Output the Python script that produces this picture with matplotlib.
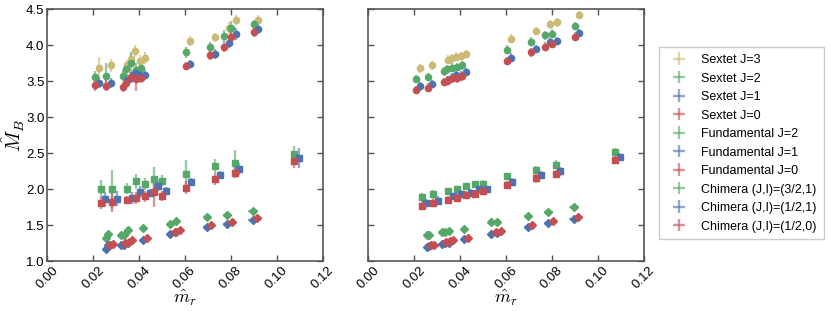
import numpy as np
import matplotlib
matplotlib.use("Agg")
import matplotlib.pyplot as plt

plt.rcParams['font.family'] = ['Liberation Sans', 'DejaVu Sans']
plt.rcParams['mathtext.fontset'] = 'cm'

red, blue, green, gold = "#C44E52", "#4C72B0", "#55A868", "#CCB974"

# m_r for each ensemble (J=1 / J=3 and red chimera are shifted by 0.002 for readability)
x_sex = np.array([0.0207, 0.0258, 0.0328, 0.0345, 0.0364, 0.0386, 0.0407,
                  0.0603, 0.0710, 0.0772, 0.0801, 0.0899])
x_fun = np.array([0.0233, 0.0284, 0.0349, 0.0386, 0.0426, 0.0464, 0.0499,
                  0.0606, 0.0732, 0.0817, 0.1075])
x_chi = np.array([0.0255, 0.0265, 0.0320, 0.0335, 0.0350, 0.0415, 0.0535,
                  0.0560, 0.0695, 0.0785, 0.0895])
shift = 0.002

xerr_sex = [0.0008] * 12
xerr_fun = [0.0005] * 11
xerr_chi = [0.0008, 0.0008, 0.0009, 0.0009, 0.0009, 0.0011, 0.0013,
            0.0014, 0.0016, 0.0019, 0.0022]

# left panel
sexL = {
    3: [3.69, 3.72, 3.72, 3.81, 3.92, 3.78, 3.82, 4.06, 4.11, 4.24, 4.35, 4.35],
    2: [3.56, 3.58, 3.58, 3.67, 3.75, 3.66, 3.69, 3.90, 3.97, 4.13, 4.24, 4.29],
    1: [3.48, 3.48, 3.52, 3.55, 3.62, 3.59, 3.59, 3.74, 3.88, 4.03, 4.16, 4.22],
    0: [3.45, 3.44, 3.42, 3.48, 3.56, 3.53, 3.55, 3.71, 3.87, 3.98, 4.11, 4.18],
}
sexL_err = {
    3: [0.15, 0.09, 0.07, 0.07, 0.08, 0.08, 0.08, 0.07, 0.06, 0.08, 0.07, 0.07],
    2: [0.08, 0.18, 0.08, 0.08, 0.15, 0.10, 0.07, 0.07, 0.08, 0.08, 0.10, 0.06],
    1: [0.08, 0.07, 0.08, 0.08, 0.07, 0.07, 0.07, 0.06, 0.07, 0.07, 0.08, 0.07],
    0: [0.08, 0.08, 0.07, 0.07, 0.07, 0.17, 0.07, 0.06, 0.07, 0.07, 0.07, 0.07],
}
funL = {
    2: [2.01, 2.00, 2.01, 2.11, 2.07, 2.14, 2.12, 2.21, 2.32, 2.37, 2.49],
    1: [1.86, 1.87, 1.88, 1.96, 1.95, 2.05, 1.98, 2.10, 2.20, 2.28, 2.43],
    0: [1.81, 1.82, 1.85, 1.88, 1.90, 1.96, 1.91, 2.02, 2.14, 2.23, 2.39],
}
funL_err = {
    2: [0.12, 0.27, 0.08, 0.10, 0.08, 0.17, 0.08, 0.20, 0.10, 0.17, 0.11],
    1: [0.10, 0.10, 0.08, 0.08, 0.06, 0.08, 0.05, 0.05, 0.06, 0.08, 0.14],
    0: [0.08, 0.14, 0.06, 0.08, 0.07, 0.20, 0.07, 0.09, 0.08, 0.08, 0.10],
}
chiL = {
    "g": [1.33, 1.38, 1.37, 1.36, 1.44, 1.46, 1.52, 1.56, 1.62, 1.64, 1.70],
    "b": [1.17, 1.22, 1.23, 1.23, 1.25, 1.30, 1.38, 1.40, 1.48, 1.52, 1.57],
    "r": [1.22, 1.24, 1.25, 1.27, 1.29, 1.32, 1.40, 1.44, 1.50, 1.55, 1.60],
}
chiL_err = {
    "g": [0.05, 0.04, 0.04, 0.04, 0.04, 0.05, 0.04, 0.03, 0.03, 0.03, 0.03],
    "b": [0.03, 0.03, 0.03, 0.03, 0.03, 0.03, 0.02, 0.02, 0.02, 0.02, 0.02],
    "r": [0.03, 0.03, 0.03, 0.03, 0.03, 0.04, 0.02, 0.02, 0.02, 0.02, 0.02],
}

# right panel
sexR = {
    3: [3.68, 3.72, 3.80, 3.82, 3.84, 3.85, 3.88, 4.09, 4.20, 4.29, 4.32, 4.42],
    2: [3.53, 3.56, 3.64, 3.67, 3.69, 3.70, 3.72, 3.94, 4.05, 4.14, 4.16, 4.27],
    1: [3.43, 3.46, 3.52, 3.55, 3.59, 3.58, 3.63, 3.83, 3.95, 4.04, 4.06, 4.17],
    0: [3.38, 3.41, 3.49, 3.51, 3.54, 3.54, 3.57, 3.78, 3.90, 3.98, 4.02, 4.12],
}
sexR_err = {k: [0.06] * 12 for k in sexR}
funR = {
    2: [1.89, 1.93, 1.97, 2.00, 2.04, 2.07, 2.08, 2.18, 2.27, 2.34, 2.52],
    1: [1.81, 1.84, 1.90, 1.94, 1.95, 2.00, 2.00, 2.10, 2.20, 2.25, 2.45],
    0: [1.77, 1.81, 1.85, 1.88, 1.92, 1.94, 1.97, 2.06, 2.15, 2.21, 2.41],
}
funR_err = {k: [0.06, 0.06, 0.05, 0.05, 0.05, 0.05, 0.05, 0.05, 0.06, 0.06, 0.06]
            for k in funR}
chiR = {
    "g": [1.36, 1.37, 1.40, 1.41, 1.42, 1.45, 1.54, 1.55, 1.63, 1.69, 1.75],
    "b": [1.20, 1.21, 1.24, 1.25, 1.26, 1.31, 1.38, 1.39, 1.48, 1.53, 1.59],
    "r": [1.22, 1.23, 1.27, 1.28, 1.29, 1.33, 1.41, 1.42, 1.50, 1.56, 1.61],
}
chiR_err = {k: [0.025] * 11 for k in chiR}

sex_col = {3: gold, 2: green, 1: blue, 0: red}
fun_col = {2: green, 1: blue, 0: red}
chi_col = {"g": green, "b": blue, "r": red}
chi_lab = {"g": "Chimera (J,I)=(3/2,1)", "b": "Chimera (J,I)=(1/2,1)",
           "r": "Chimera (J,I)=(1/2,0)"}


def draw(ax, x, y, xe, ye, col, mk, label):
    ax.errorbar(x, y, xerr=xe, yerr=ye, fmt='none', ecolor=col,
                elinewidth=1.7, alpha=0.6, label=label)
    ax.plot(x, y, mk, color=col, ms=4.5, mec=col, zorder=3)


fig = plt.figure(figsize=(8.31, 3.15), dpi=100)
axL = fig.add_axes([0.0569, 0.1705, 0.3314, 0.80])
axR = fig.add_axes([0.4432, 0.1705, 0.3314, 0.80])

for ax, sex, sexe, fun, fune, chi, chie in [
        (axL, sexL, sexL_err, funL, funL_err, chiL, chiL_err),
        (axR, sexR, sexR_err, funR, funR_err, chiR, chiR_err)]:
    for j in [3, 2, 1, 0]:
        xs = x_sex + (shift if j in (1, 3) else 0)
        draw(ax, xs, sex[j], xerr_sex, sexe[j], sex_col[j], 'o',
             "Sextet J=%d" % j)
    for j in [2, 1, 0]:
        xs = x_fun + (shift if j == 1 else 0)
        draw(ax, xs, fun[j], xerr_fun, fune[j], fun_col[j], 's',
             "Fundamental J=%d" % j)
    for k in ["g", "b", "r"]:
        xs = x_chi + (shift if k == "r" else 0)
        draw(ax, xs, chi[k], xerr_chi, chie[k], chi_col[k], 'D', chi_lab[k])

    ax.set_xlim(0, 0.12)
    ax.set_ylim(1.0, 4.5)
    ax.set_xticks(np.arange(0, 0.121, 0.02))
    ax.set_xticklabels(["%.2f" % t for t in np.arange(0, 0.121, 0.02)],
                       rotation=45)
    ax.set_yticks(np.arange(1.0, 4.51, 0.5))
    ax.tick_params(direction='in', top=True, right=True, length=4,
                   width=1, color='#555555', labelsize=9.5, pad=2)
    for s in ax.spines.values():
        s.set_color('#555555')
        s.set_linewidth(1.2)
    ax.set_xlabel(r"$\hat{m}_r$", fontsize=13, labelpad=-2)

axL.set_ylabel(r"$\hat{M}_B$", fontsize=14.5)
axL.yaxis.set_label_coords(-0.072, 0.5)
axR.set_yticklabels([])

handles, labels = axL.get_legend_handles_labels()
leg = fig.legend(handles, labels, loc='upper left',
                 bbox_to_anchor=(0.786, 0.87), fontsize=9,
                 labelspacing=0.52, handlelength=2.0, borderpad=0.55,
                 fancybox=False, framealpha=1.0)
leg.get_frame().set_edgecolor('#cccccc')

fig.savefig("out.png", dpi=100)
